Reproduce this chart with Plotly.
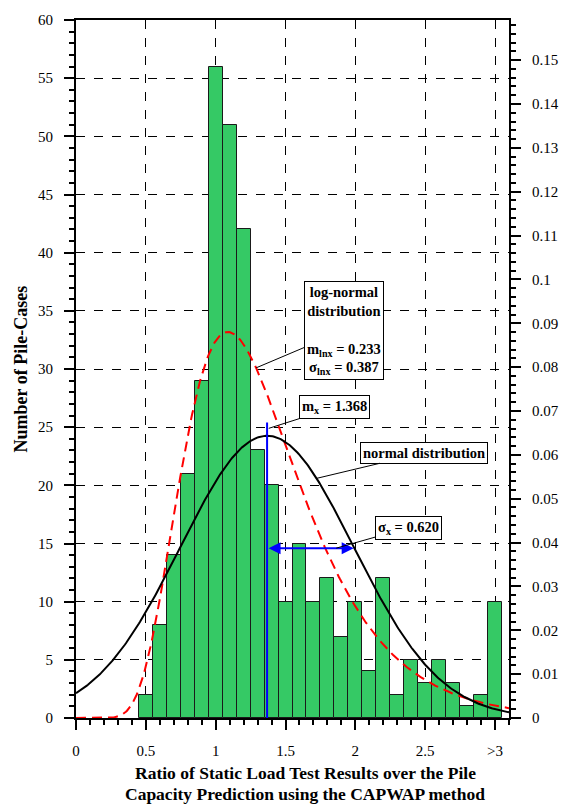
import numpy as np
import plotly.graph_objects as go

# Histogram of the ratio (static load test / CAPWAP prediction), bins of 0.1
bin_centers = [0.5, 0.6, 0.7, 0.8, 0.9, 1.0, 1.1, 1.2, 1.3, 1.4, 1.5, 1.6, 1.7,
               1.8, 1.9, 2.0, 2.1, 2.2, 2.3, 2.4, 2.5, 2.6, 2.7, 2.8, 2.9, 3.0]
pile_cases = [2, 8, 14, 21, 29, 56, 51, 42, 23, 20, 10, 15, 10,
              12, 7, 10, 4, 12, 2, 5, 3, 5, 3, 1, 2, 10]
bin_width = 0.1

# Fitted distribution parameters
mean_x = 1.368
std_x = 0.620
mean_lnx = 0.233
std_lnx = 0.387

x_tick_vals = [0, 0.5, 1, 1.5, 2, 2.5, 3.0]
x_tick_text = ["0", "0.5", "1", "1.5", "2", "2.5", ">3"]
y_tick_vals = list(range(0, 61, 5))
y2_tick_vals = [i / 100 for i in range(0, 16)]
y2_tick_text = ["0"] + ["%g" % v for v in y2_tick_vals[1:]]

n_total = sum(pile_cases)
scale = n_total * bin_width  # pdf -> expected count per bin

xs = np.linspace(0.0, 3.1, 400)
normal_counts = scale * np.exp(-0.5 * ((xs - mean_x) / std_x) ** 2) / (std_x * np.sqrt(2 * np.pi))
xl = np.clip(xs, 1e-6, None)
lognormal_counts = scale * np.exp(-0.5 * ((np.log(xl) - mean_lnx) / std_lnx) ** 2) / (xl * std_lnx * np.sqrt(2 * np.pi))

FONT = "Liberation Serif"

fig = go.Figure()

fig.add_trace(go.Bar(
    x=bin_centers, y=pile_cases, width=bin_width,
    marker=dict(color="#35C965", line=dict(color="#1a1a1a", width=1)),
    showlegend=False, hoverinfo="skip",
))

fig.add_trace(go.Scatter(
    x=xs, y=lognormal_counts, mode="lines",
    line=dict(color="#FF0000", width=2, dash="10px,6px"),
    showlegend=False, hoverinfo="skip",
))

fig.add_trace(go.Scatter(
    x=xs, y=normal_counts, mode="lines",
    line=dict(color="black", width=2),
    showlegend=False, hoverinfo="skip",
))

# Mean marker
fig.add_trace(go.Scatter(
    x=[mean_x, mean_x], y=[0, 25.4], mode="lines",
    line=dict(color="#0000FF", width=2),
    showlegend=False, hoverinfo="skip",
))

# Invisible trace to carry the relative-frequency axis
fig.add_trace(go.Scatter(
    x=[0], y=[0], yaxis="y2", mode="markers",
    marker=dict(opacity=0), showlegend=False, hoverinfo="skip",
))

# Standard deviation arrow
fig.add_annotation(
    x=mean_x + std_x, y=14.6, ax=mean_x, ay=14.6, xref="x", yref="y",
    axref="x", ayref="y", text="", showarrow=True, arrowside="end+start",
    arrowhead=2, arrowsize=1.2, arrowwidth=2, arrowcolor="#0000FF",
)

box = dict(bordercolor="black", borderwidth=1, bgcolor="white", borderpad=2,
           font=dict(family=FONT, size=14.5, color="black"),
           showarrow=True, arrowhead=0, arrowwidth=1, arrowcolor="black",
           xref="x", yref="y", axref="x", ayref="y")

fig.add_annotation(
    x=1.29, y=30.1, ax=1.919, ay=33.3,
    text="<b>log-normal<br>distribution<br> <br>m<sub>lnx</sub> = 0.233<br>σ<sub>lnx</sub> = 0.387</b>",
    **box)
fig.add_annotation(
    x=1.38, y=24.9, ax=1.853, ay=26.7,
    text="<b>m<sub>x</sub> = 1.368</b>", **box)
fig.add_annotation(
    x=1.723, y=20.6, ax=2.492, ay=22.8,
    text="<b>normal distribution</b>", **box)
fig.add_annotation(
    x=1.863, y=14.6, ax=2.380, ay=16.36,
    text="<b>σ<sub>x</sub> = 0.620</b>", **box)

# Axis titles (x title as two tightly spaced lines)
title_font = dict(family=FONT, size=17.5, color="black")
fig.add_annotation(
    xref="paper", yref="paper", x=0.53, y=-0.0795, xanchor="center", yanchor="middle",
    text="<b>Ratio of Static Load Test Results over the Pile</b>",
    showarrow=False, font=title_font, borderpad=0,
)
fig.add_annotation(
    xref="paper", yref="paper", x=0.53, y=-0.1085, xanchor="center", yanchor="middle",
    text="<b>Capacity Prediction using the CAPWAP method</b>",
    showarrow=False, font=title_font, borderpad=0,
)
fig.add_annotation(
    xref="paper", yref="paper", x=-0.126, y=0.5, xanchor="center", yanchor="middle",
    textangle=-90, text="<b>Number of Pile-Cases</b>",
    showarrow=False, font=dict(family=FONT, size=18, color="black"),
)

axis_common = dict(
    showline=True, linecolor="black", linewidth=2,
    ticks="outside", ticklen=10, tickwidth=2, tickcolor="black",
    tickfont=dict(family=FONT, size=15, color="black"),
    zeroline=False,
)

fig.update_layout(
    width=571, height=804,
    margin=dict(l=76, r=51, t=14, b=86),
    plot_bgcolor="white", paper_bgcolor="white",
    font=dict(family=FONT, color="black"),
    bargap=0,
    xaxis=dict(
        range=[0, 3.1], tickmode="array", tickvals=x_tick_vals, ticktext=x_tick_text,
        showgrid=True, gridcolor="black", gridwidth=1, griddash="dash",
        mirror=True, ticklabelstandoff=8,
        minor=dict(tickmode="linear", tick0=0, dtick=0.1, ticks="outside",
                   ticklen=5, tickwidth=1.5, tickcolor="black", showgrid=False),
        **axis_common,
    ),
    yaxis=dict(
        range=[0, 60], tickmode="array", tickvals=y_tick_vals,
        showgrid=True, gridcolor="black", gridwidth=1, griddash="dash",
        mirror=True, ticklabelstandoff=8,
        minor=dict(tickmode="linear", tick0=0, dtick=1, ticks="outside",
                   ticklen=5, tickwidth=1.5, tickcolor="black", showgrid=False),
        **axis_common,
    ),
    yaxis2=dict(
        overlaying="y", side="right", range=[0, 60 / n_total],
        tickmode="array", tickvals=y2_tick_vals, ticktext=y2_tick_text,
        showgrid=False, ticklabelstandoff=8,
        minor=dict(tickmode="linear", tick0=0, dtick=0.002, ticks="outside",
                   ticklen=5, tickwidth=1.5, tickcolor="black", showgrid=False),
        **axis_common,
    ),
)

fig.write_html("out.html")
